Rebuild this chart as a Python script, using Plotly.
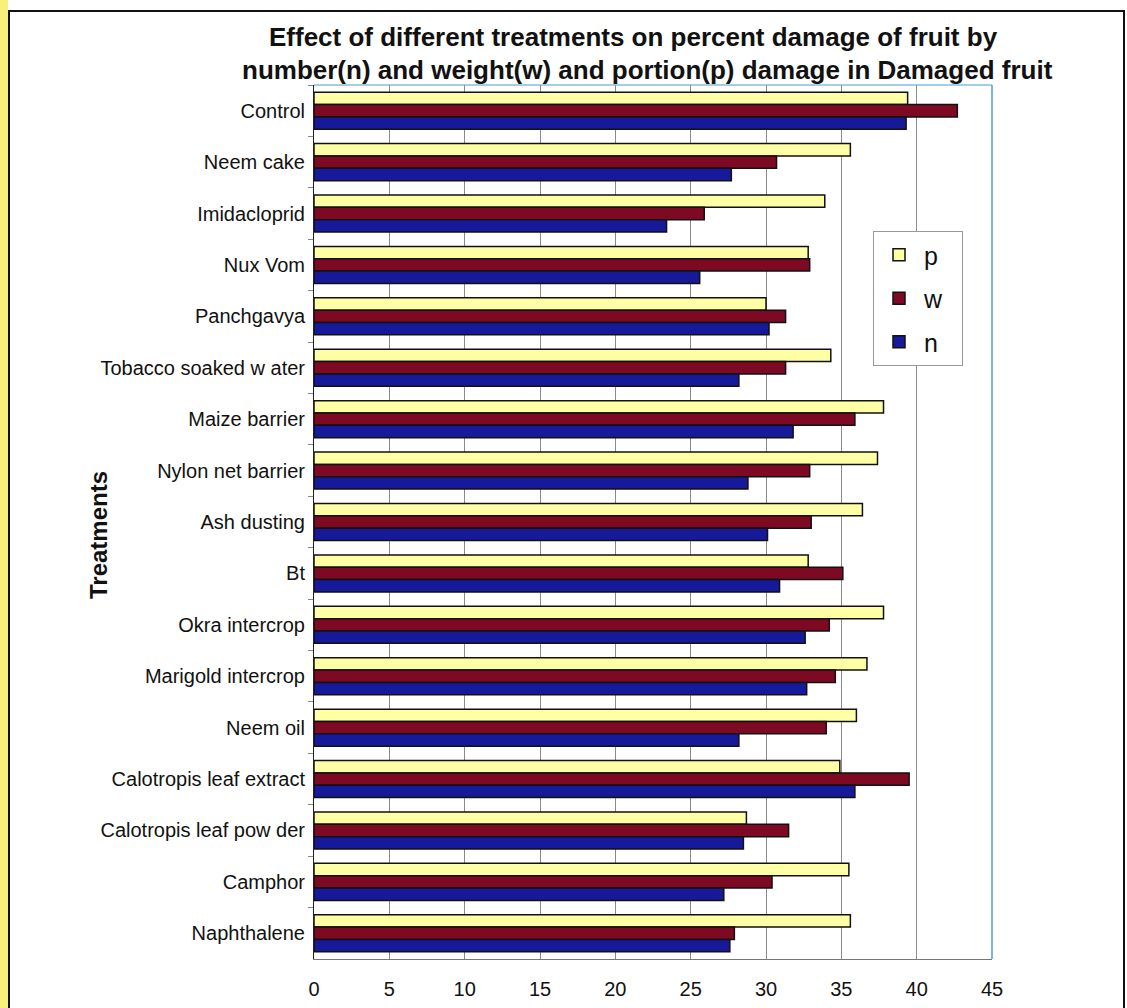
import plotly.graph_objects as go

treatments = ["Control", "Neem cake", "Imidacloprid", "Nux Vom", "Panchgavya",
              "Tobacco soaked w ater", "Maize barrier", "Nylon net barrier", "Ash dusting",
              "Bt", "Okra intercrop", "Marigold intercrop", "Neem oil",
              "Calotropis leaf extract", "Calotropis leaf pow der", "Camphor", "Naphthalene"]
p_vals = [39.4, 35.6, 33.9, 32.8, 30.0, 34.3, 37.8, 37.4, 36.4, 32.8, 37.8, 36.7, 36.0, 34.9, 28.7, 35.5, 35.6]
w_vals = [42.7, 30.7, 25.9, 32.9, 31.3, 31.3, 35.9, 32.9, 33.0, 35.1, 34.2, 34.6, 34.0, 39.5, 31.5, 30.4, 27.9]
n_vals = [39.3, 27.7, 23.4, 25.6, 30.2, 28.2, 31.8, 28.8, 30.1, 30.9, 32.6, 32.7, 28.2, 35.9, 28.5, 27.2, 27.6]
x_ticks = [0, 5, 10, 15, 20, 25, 30, 35, 40, 45]

series = [("p", p_vals, "#FFFFA6"), ("w", w_vals, "#7D0A22"), ("n", n_vals, "#15199A")]

fig = go.Figure()
for name, vals, col in series:
    fig.add_trace(go.Bar(
        y=treatments, x=vals, name=name + "\u00a0\u00a0", orientation="h", legendgroup=name,
        marker=dict(color=col, line=dict(color="#111111", width=1.5)),
    ))

W, H = 1127, 1008
L, R, T, B = 314, 135, 85, 49
PW, PH = W - L - R, H - T - B

def px_x(x):
    return (x - L) / PW

def px_y(y):
    return (H - B - y) / PH

fig.update_layout(
    width=W, height=H,
    margin=dict(l=L, r=R, t=T, b=B, autoexpand=False),
    paper_bgcolor="white", plot_bgcolor="white",
    barmode="group", bargap=0.28, bargroupgap=0,
    font=dict(family="Arial, Liberation Sans, sans-serif", color="#111111"),
    xaxis=dict(
        range=[0, 45], tickvals=x_ticks, ticktext=[str(v) for v in x_ticks],
        showgrid=True, gridcolor="#8A8A8A", gridwidth=1, automargin=False,
        tickfont=dict(size=20), ticks="", ticklabelstandoff=12,
        showline=True, linecolor="#777777", zeroline=False,
    ),
    yaxis=dict(
        autorange="reversed", tickfont=dict(size=20), automargin=False,
        ticks="outside", ticklen=5, tickcolor="#888888", tickson="boundaries",
        ticklabelstandoff=4,
        showline=True, linecolor="#222222", linewidth=1,
    ),
    legend=dict(
        x=px_x(873), y=px_y(231), xref="paper", yref="paper",
        xanchor="left", yanchor="top",
        bgcolor="white", bordercolor="#999999", borderwidth=1,
        font=dict(size=25), tracegroupgap=8, itemwidth=40,
    ),
    showlegend=True,
)

annotations = [
    dict(text="<b>Effect of different treatments on percent damage of fruit by</b>",
         xref="paper", yref="paper", x=px_x(633), y=px_y(37), xanchor="center", yanchor="middle",
         showarrow=False, font=dict(size=26, color="#111111")),
    dict(text="<b>number(n) and weight(w) and portion(p) damage in Damaged fruit</b>",
         xref="paper", yref="paper", x=px_x(647), y=px_y(70), xanchor="center", yanchor="middle",
         showarrow=False, font=dict(size=26, color="#111111")),
    dict(text="<b>Treatments</b>", textangle=-90,
         xref="paper", yref="paper", x=px_x(98), y=px_y(535), xanchor="center", yanchor="middle",
         showarrow=False, font=dict(size=24, color="#111111")),
]

shapes = [
    dict(type="rect", xref="paper", yref="paper", x0=px_x(0), x1=px_x(8),
         y0=px_y(H), y1=px_y(0), fillcolor="#F7F07A", line=dict(width=0), layer="below"),
    dict(type="rect", xref="paper", yref="paper",
         x0=px_x(9), x1=px_x(1124), y0=px_y(1012), y1=px_y(11),
         line=dict(color="#111111", width=2), fillcolor="rgba(0,0,0,0)", layer="above"),
    dict(type="line", xref="paper", yref="paper", x0=0, x1=1, y0=1, y1=1,
         line=dict(color="#4F9BD0", width=1.2)),
    dict(type="line", xref="paper", yref="paper", x0=1, x1=1, y0=0, y1=1,
         line=dict(color="#4F9BD0", width=1.5)),
]
fig.update_layout(shapes=shapes, annotations=annotations)

fig.write_html("out.html")
